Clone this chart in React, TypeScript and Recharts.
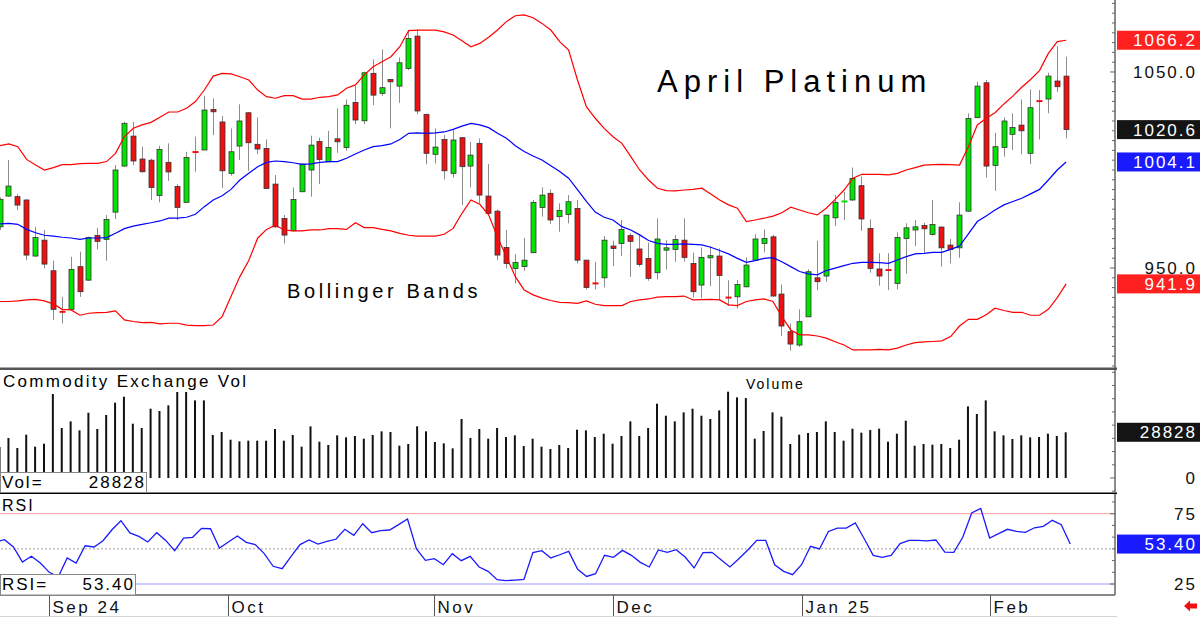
import React from "react";
import { Bar, ComposedChart, Line, ReferenceLine, XAxis, YAxis } from "recharts";

// April Platinum daily bars, Sep 2024 - Feb 2025
const opens = [
  971.0, 986.7, 986.4, 984.7, 956.1, 964.2, 948.6, 928.0, 928.9, 950.7,
  943.8, 966.6, 964.6, 978.5, 1002.0, 1017.3, 1005.6, 1005.0, 987.0, 1003.9,
  991.6, 983.5, 1009.5, 1010.2, 1030.9, 1024.5, 998.3, 1012.2, 1029.2, 1013.1,
  1011.0, 992.8, 975.3, 969.0, 988.9, 1000.0, 1014.6, 1004.2, 1015.9, 1011.5,
  1034.5, 1025.1, 1049.3, 1039.1, 1046.2, 1042.8, 1051.8, 1068.3, 1028.4, 1008.0,
  1015.6, 998.3, 1016.5, 1002.0, 1013.6, 986.7, 979.0, 960.5, 949.8, 950.7,
  957.8, 980.9, 988.1, 976.2, 977.3, 980.4, 954.0, 942.3, 945.0, 961.2,
  962.5, 966.5, 959.7, 954.9, 947.6, 959.1, 959.5, 964.2, 952.3, 941.3,
  955.2, 956.1, 935.3, 935.3, 940.4, 954.0, 962.5, 965.9, 936.7, 917.5,
  910.7, 925.1, 945.0, 945.9, 975.6, 983.6, 984.7, 992.0, 970.2, 949.5,
  949.1, 942.1, 965.1, 969.4, 971.7, 967.1, 970.9, 961.7, 960.3, 979.0,
  1026.7, 1044.5, 1002.3, 1011.5, 1018.2, 1022.9, 1008.5, 1035.3, 1036.2, 1045.4, 1047.9,
];
const highs = [
  986.0, 1005.1, 987.7, 985.0, 971.0, 969.4, 953.7, 935.3, 955.7, 958.3,
  966.0, 970.5, 977.0, 1002.5, 1024.6, 1024.6, 1011.9, 1005.7, 1012.4, 1013.6,
  992.7, 1009.3, 1017.0, 1037.9, 1036.5, 1027.5, 1021.2, 1033.5, 1029.5, 1026.8,
  1015.6, 997.4, 977.0, 991.1, 1003.4, 1017.5, 1016.5, 1020.0, 1031.4, 1036.0,
  1042.8, 1050.1, 1056.4, 1061.5, 1046.4, 1057.4, 1071.1, 1071.7, 1028.6, 1021.2,
  1017.8, 1020.4, 1016.8, 1014.4, 1016.1, 1003.0, 979.9, 969.4, 957.1, 965.4,
  984.7, 991.1, 990.1, 983.0, 987.2, 984.7, 954.2, 953.2, 966.3, 963.9,
  974.5, 967.7, 967.3, 962.9, 975.3, 964.2, 966.8, 975.3, 957.8, 960.5,
  961.2, 960.0, 943.8, 943.8, 955.4, 967.3, 969.7, 966.8, 941.6, 921.7,
  928.9, 949.3, 963.9, 977.2, 987.2, 988.9, 1001.3, 996.6, 974.8, 957.5,
  957.5, 968.2, 972.8, 974.5, 973.1, 984.7, 971.1, 964.8, 983.5, 1028.9,
  1045.0, 1045.9, 1019.0, 1026.8, 1028.9, 1036.0, 1041.1, 1040.8, 1049.6, 1063.2, 1057.8,
];
const lows = [
  969.4, 986.4, 979.6, 954.0, 955.7, 949.8, 923.4, 921.7, 928.5, 935.3,
  943.5, 959.5, 953.7, 975.0, 1001.7, 1002.5, 998.6, 984.7, 983.5, 994.4,
  974.5, 983.5, 999.1, 1010.2, 1017.8, 990.9, 997.1, 1005.1, 999.6, 1008.1,
  990.4, 970.5, 962.5, 968.8, 988.7, 986.4, 992.8, 1004.0, 1008.8, 1009.8,
  1023.4, 1023.4, 1033.1, 1037.7, 1021.2, 1034.3, 1051.0, 1028.4, 1002.9, 1003.4,
  995.2, 996.2, 982.1, 991.1, 983.0, 977.0, 954.0, 949.8, 942.1, 948.6,
  957.6, 976.2, 972.4, 968.5, 972.8, 952.3, 939.1, 939.1, 940.1, 951.0,
  956.1, 945.5, 950.7, 943.5, 944.2, 949.3, 953.2, 953.2, 935.0, 934.5,
  940.8, 933.6, 930.6, 929.4, 940.2, 953.8, 958.0, 935.3, 915.3, 907.8,
  909.8, 924.9, 938.7, 943.0, 971.4, 974.5, 984.2, 969.0, 947.6, 941.0,
  938.7, 939.1, 947.2, 961.2, 957.8, 966.5, 950.7, 952.3, 955.2, 978.7,
  1026.5, 996.2, 989.4, 1006.8, 1010.2, 1008.0, 1003.0, 1015.6, 1028.9, 1039.9, 1016.1,
];
const closes = [
  985.0, 991.8, 982.1, 956.6, 965.6, 952.0, 928.9, 927.3, 949.3, 937.9,
  965.6, 963.6, 974.8, 1000.0, 1023.8, 1004.6, 999.1, 991.1, 1010.5, 999.0,
  980.9, 1006.4, 1008.8, 1030.6, 1029.7, 999.6, 1009.3, 1025.0, 1013.9, 1010.7,
  990.6, 971.0, 966.8, 985.0, 1003.0, 1012.7, 1005.4, 1011.5, 1014.4, 1033.0,
  1025.5, 1049.6, 1038.2, 1042.0, 1045.0, 1054.7, 1067.1, 1030.1, 1008.5, 1011.7,
  999.6, 1015.3, 1001.7, 1007.6, 987.2, 977.9, 956.6, 952.3, 952.8, 954.0,
  983.5, 987.2, 974.5, 979.4, 983.8, 954.0, 940.1, 942.0, 964.2, 960.0,
  969.7, 963.6, 951.8, 944.7, 964.8, 960.3, 964.6, 955.4, 937.9, 955.4,
  956.3, 946.2, 934.5, 941.6, 951.5, 964.8, 965.1, 935.7, 920.4, 911.2,
  922.6, 948.1, 943.0, 977.0, 983.5, 984.3, 995.7, 975.0, 949.8, 945.9,
  948.8, 965.6, 970.5, 971.0, 970.0, 972.2, 960.3, 959.5, 977.0, 1026.3,
  1042.8, 1002.0, 1011.9, 1025.0, 1021.7, 1020.0, 1031.8, 1035.0, 1047.9, 1042.5, 1020.6,
];

// Bollinger bands
const upperBand = [
  1012.4, 1013.3, 1011.9, 1005.4, 1002.5, 1000.0, 1001.2, 1002.7, 1002.7, 1003.2,
  1003.4, 1003.4, 1004.3, 1008.5, 1017.0, 1021.3, 1023.0, 1024.3, 1026.9, 1029.6,
  1029.6, 1031.5, 1034.9, 1040.8, 1047.9, 1049.3, 1049.0, 1047.6, 1045.9, 1040.8,
  1037.4, 1036.6, 1037.9, 1037.9, 1036.2, 1036.2, 1037.1, 1037.4, 1038.3, 1041.7,
  1043.4, 1048.5, 1052.7, 1055.2, 1057.8, 1062.9, 1071.1, 1071.4, 1071.4, 1071.4,
  1070.5, 1068.9, 1066.0, 1062.9, 1064.6, 1067.7, 1071.4, 1075.7, 1078.7, 1079.1,
  1077.7, 1074.8, 1071.4, 1065.5, 1061.2, 1045.9, 1032.3, 1026.4, 1021.2, 1017.0,
  1013.6, 1006.8, 1000.0, 994.9, 990.7, 989.5, 989.3, 989.8, 990.1, 990.7,
  987.8, 984.7, 982.2, 980.5, 973.7, 974.5, 975.4, 976.5, 978.2, 981.0,
  979.6, 978.2, 977.1, 980.5, 985.0, 989.8, 995.8, 997.8, 997.8, 997.8,
  997.5, 998.3, 1000.0, 1001.2, 1002.5, 1002.7, 1002.9, 1002.7, 1002.5, 1011.9,
  1023.0, 1026.4, 1029.2, 1033.7, 1037.7, 1042.2, 1046.2, 1050.7, 1059.5, 1065.5, 1066.2,
];
const middleBand = [
  972.5, 972.8, 972.3, 969.7, 968.0, 966.7, 966.3, 965.7, 965.3, 964.6,
  965.3, 965.3, 965.5, 967.7, 970.1, 971.4, 972.3, 973.1, 974.0, 975.4,
  975.4, 975.9, 977.4, 981.3, 984.7, 986.9, 990.1, 994.9, 998.3, 1001.7,
  1003.9, 1004.6, 1004.3, 1003.7, 1002.9, 1003.1, 1003.9, 1004.3, 1004.3, 1006.0,
  1008.2, 1010.2, 1011.9, 1012.4, 1013.3, 1015.6, 1018.7, 1018.9, 1018.7, 1018.9,
  1019.4, 1020.7, 1022.4, 1023.8, 1023.0, 1021.6, 1018.7, 1016.2, 1012.4, 1009.4,
  1007.1, 1005.1, 1002.2, 999.2, 995.8, 990.0, 984.0, 978.5, 975.9, 974.5,
  971.1, 969.4, 966.9, 964.0, 962.6, 962.1, 962.1, 962.3, 962.1, 961.8,
  960.6, 958.9, 957.2, 954.9, 952.9, 953.8, 954.9, 955.3, 953.2, 950.7,
  948.2, 947.0, 946.5, 948.7, 949.9, 951.2, 952.4, 952.9, 952.9, 952.7,
  952.4, 954.1, 955.8, 957.2, 957.5, 958.0, 958.0, 959.5, 961.2, 967.4,
  973.7, 976.5, 979.6, 982.2, 983.9, 985.6, 987.8, 990.1, 994.9, 1000.0, 1004.1,
];
const lowerBand = [
  932.9, 932.9, 933.2, 933.7, 934.0, 933.2, 931.7, 928.9, 928.6, 925.9,
  926.9, 927.2, 927.4, 928.1, 923.5, 922.7, 922.1, 922.3, 921.5, 921.8,
  921.8, 920.9, 920.6, 920.6, 920.9, 925.2, 935.4, 945.6, 953.8, 965.2,
  969.7, 971.8, 969.4, 968.9, 968.9, 969.4, 969.4, 970.1, 970.1, 969.7,
  973.1, 970.6, 970.6, 969.7, 968.9, 967.7, 966.7, 966.3, 966.3, 966.3,
  967.2, 970.2, 977.9, 984.7, 982.5, 977.1, 965.7, 955.8, 945.6, 938.8,
  936.3, 934.6, 933.4, 932.5, 932.3, 932.0, 933.2, 931.5, 930.8, 930.8,
  930.8, 932.9, 933.7, 934.2, 935.1, 935.4, 935.4, 935.7, 933.7, 933.9,
  934.0, 933.7, 931.2, 930.8, 932.9, 933.7, 934.2, 932.9, 925.2, 918.4,
  915.9, 915.9, 915.3, 914.2, 912.4, 910.7, 908.2, 908.2, 908.2, 908.5,
  908.2, 909.1, 910.7, 911.9, 912.3, 912.5, 912.8, 915.0, 920.4, 923.8,
  923.8, 926.1, 929.5, 928.3, 927.4, 927.4, 925.9, 925.9, 928.9, 934.9, 941.9,
];

const volumes = [
  19540, 25210, 18910, 27310, 19750, 21640, 52950, 31520, 35720, 30040,
  41180, 30880, 39710, 47480, 51260, 34250, 31520, 43700, 42230, 45800,
  54210, 54210, 48950, 48950, 27100, 28990, 24160, 23110, 23530, 23530,
  23530, 30880, 23530, 27100, 19750, 32570, 22900, 20800, 26890, 25630,
  26470, 24790, 27100, 29410, 28990, 20380, 21430, 32570, 29410, 22690,
  21850, 18700, 37190, 25210, 30880, 24790, 31520, 25840, 26890, 20170,
  24790, 19750, 18280, 20800, 18910, 30460, 30040, 25840, 27940, 21640,
  26470, 35720, 26470, 31520, 46850, 39290, 35720, 41390, 43700, 39290,
  37190, 42650, 54420, 50840, 50420, 24790, 29620, 41390, 38660, 21430,
  27310, 28360, 28990, 35720, 28990, 23530, 31090, 28570, 30250, 31090,
  22900, 27940, 36140, 20380, 21430, 21010, 21430, 18910, 24160, 45170,
  40340, 48950, 29410, 26890, 24580, 26890, 25630, 25840, 27940, 26470, 28828,
];

const rsiValues = [
  54.9, 56.5, 51.3, 40.6, 44.7, 39.9, 33.3, 30.0, 43.5, 39.9,
  52.2, 51.3, 55.8, 63.6, 70.0, 61.3, 58.9, 54.9, 61.5, 56.0,
  48.7, 57.7, 58.2, 64.6, 64.3, 50.6, 54.9, 59.1, 54.6, 53.0,
  46.6, 37.6, 35.9, 44.7, 53.0, 56.3, 53.4, 55.3, 56.8, 63.9,
  59.6, 67.9, 61.5, 62.9, 63.4, 67.2, 71.2, 49.9, 41.8, 43.0,
  38.7, 46.6, 41.6, 44.7, 37.1, 34.0, 28.1, 27.4, 27.8, 28.3,
  47.3, 48.7, 43.5, 45.8, 48.2, 35.4, 30.4, 32.3, 45.4, 44.0,
  48.9, 45.4, 40.4, 37.1, 49.2, 47.5, 49.4, 44.2, 36.4, 47.3,
  47.5, 42.3, 37.1, 43.0, 49.2, 56.0, 56.0, 38.7, 34.0, 31.6,
  38.7, 51.8, 49.9, 62.4, 64.8, 64.8, 68.4, 57.2, 45.4, 44.0,
  45.4, 53.7, 56.0, 56.0, 55.6, 56.3, 47.7, 47.5, 58.2, 75.5,
  78.8, 57.7, 60.8, 63.9, 62.4, 61.7, 65.0, 66.0, 70.3, 67.2, 53.4,
];

const monthTicks = [6, 26, 49, 69, 90, 111];
const monthLabels = ["Sep 24", "Oct", "Nov", "Dec", "Jan 25", "Feb"];
const priceLabels = [950, 1050];
const volLabels = [0, 50000];
const rsiLabels = [25, 75];

const FONT = "'Liberation Sans', Arial, Helvetica, sans-serif";
const W = 1200;
const AXIS_W = 85;
const PLOT_RIGHT = W - AXIS_W;
const LEFT = -4.445; // first bar sits on the left edge
const PAD = 5; // empty slots right of the last bar
const MARGIN = { top: 0, right: 0, bottom: 0, left: LEFT };

const rows = Array.from({ length: opens.length + PAD }, (_, i) =>
  i < opens.length
    ? {
        i,
        o: opens[i],
        h: highs[i],
        l: lows[i],
        c: closes[i],
        up: upperBand[i],
        mid: middleBand[i],
        lo: lowerBand[i],
        v: volumes[i],
        rsi: rsiValues[i],
      }
    : { i }
);

const last = opens.length - 1;

const steps = (from: number, to: number, step: number) => {
  const out: number[] = [];
  for (let v = from; v <= to + 1e-6; v += step) out.push(Math.round(v * 1000) / 1000);
  return out;
};

function Candle(props: any) {
  const { x, y, width, height, payload } = props;
  if (!payload || payload.o == null) return null;
  const top = Math.min(y, y + height);
  const bot = Math.max(y, y + height);
  const span = payload.h - payload.l;
  const toY = (v: number) => (span === 0 ? top : top + ((payload.h - v) / span) * (bot - top));
  const cx = Math.round(x + width / 2) + 0.5;
  const rising = payload.c >= payload.o;
  const fill = rising ? "#00e400" : "#ee1111";
  const bt = toY(Math.max(payload.o, payload.c));
  const bb = toY(Math.min(payload.o, payload.c));
  const tiny = bb - bt < 2;
  return (
    <g>
      <line x1={cx} x2={cx} y1={top} y2={bot} stroke="#8c8c8c" strokeWidth={1} />
      {tiny ? (
        <rect x={cx - 3} y={(bt + bb) / 2 - 1} width={6} height={2} fill={fill} />
      ) : (
        <rect x={cx - 2.5} y={bt} width={5} height={bb - bt} fill={fill} stroke="#333" strokeWidth={0.8} />
      )}
    </g>
  );
}

function makeTick(labels: number[], fmt: (v: number) => string) {
  return (props: any) => {
    const { y, payload } = props;
    const v = payload.value;
    const major = labels.some((l) => Math.abs(l - v) < 1e-6);
    return (
      <g>
        <line x1={PLOT_RIGHT - (major ? 5 : 3)} x2={PLOT_RIGHT} y1={y} y2={y} stroke="#666" />
        {major ? (
          <text x={W - 3} y={y} dy="0.36em" textAnchor="end" fontSize={17} letterSpacing={2} fill="#111" fontFamily={FONT}>
            {fmt(v)}
          </text>
        ) : null}
      </g>
    );
  };
}

function Badge(props: any) {
  const { viewBox, text, bg } = props;
  if (!viewBox) return null;
  const y = viewBox.y;
  return (
    <g>
      <rect x={PLOT_RIGHT + 2} y={y - 9.5} width={W - PLOT_RIGHT - 2} height={19} fill={bg} />
      <text x={W - 3} y={y} dy="0.36em" textAnchor="end" fontSize={17} letterSpacing={2} fill="#fff" fontFamily={FONT}>
        {text}
      </text>
    </g>
  );
}

function MonthTick(props: any) {
  const { x, y, payload } = props;
  const idx = monthTicks.indexOf(payload.value);
  if (idx < 0) return null;
  const xx = Math.round(x) + 0.5;
  return (
    <g>
      <line x1={xx} x2={xx} y1={y} y2={y + 21} stroke="#555" />
      <text x={xx + 3} y={y + 18} fontSize={17} letterSpacing={2.5} fill="#111" fontFamily={FONT}>
        {monthLabels[idx]}
      </text>
    </g>
  );
}

const PriceTick = makeTick(priceLabels, (v) => v.toFixed(1));
const VolTick = makeTick(volLabels, (v) => String(v));
const RsiTick = makeTick(rsiLabels, (v) => String(v));

export default function App() {
  return (
    <div style={{ position: "absolute", left: 0, top: 0, width: W, height: 619, background: "#fff", overflow: "hidden", fontFamily: FONT }}>
      <div style={{ position: "absolute", left: 0, top: 0 }}>
        <ComposedChart width={W} height={368} data={rows} margin={MARGIN}>
          <XAxis dataKey="i" hide />
          <YAxis
            yAxisId="p"
            orientation="right"
            width={AXIS_W}
            type="number"
            domain={[898.98, 1086.73]}
            allowDataOverflow
            ticks={steps(900, 1085, 5)}
            interval={0}
            tick={PriceTick}
            tickLine={false}
            axisLine={{ stroke: "#666", strokeWidth: 1.5 }}
          />
          <Line yAxisId="p" dataKey="up" stroke="#ff0000" strokeWidth={1.2} dot={false} activeDot={false} isAnimationActive={false} />
          <Line yAxisId="p" dataKey="lo" stroke="#ff0000" strokeWidth={1.2} dot={false} activeDot={false} isAnimationActive={false} />
          <Line yAxisId="p" dataKey="mid" stroke="#0000ff" strokeWidth={1.2} dot={false} activeDot={false} isAnimationActive={false} />
          <Bar
            yAxisId="p"
            dataKey={(d: any) => (d.o == null ? null : [d.l, d.h])}
            barSize={6}
            shape={<Candle />}
            isAnimationActive={false}
          />
          <ReferenceLine yAxisId="p" y={upperBand[last]} stroke="none" label={<Badge text={upperBand[last].toFixed(1)} bg="#ff2020" />} />
          <ReferenceLine yAxisId="p" y={closes[last]} stroke="none" label={<Badge text={closes[last].toFixed(1)} bg="#141414" />} />
          <ReferenceLine yAxisId="p" y={middleBand[last]} stroke="none" label={<Badge text={middleBand[last].toFixed(1)} bg="#1a1aff" />} />
          <ReferenceLine yAxisId="p" y={lowerBand[last]} stroke="none" label={<Badge text={lowerBand[last].toFixed(1)} bg="#ff2020" />} />
        </ComposedChart>
      </div>

      <div style={{ position: "absolute", left: 0, top: 370 }}>
        <ComposedChart width={W} height={122} data={rows} margin={MARGIN}>
          <XAxis dataKey="i" hide />
          <YAxis
            yAxisId="v"
            orientation="right"
            width={AXIS_W}
            type="number"
            domain={[-8827, 68096]}
            allowDataOverflow
            ticks={steps(-8333.333, 66666.667, 8333.333)}
            interval={0}
            tick={VolTick}
            tickLine={false}
            axisLine={{ stroke: "#666", strokeWidth: 1.5 }}
          />
          <Bar yAxisId="v" dataKey="v" barSize={2} fill="#111" isAnimationActive={false} />
          <ReferenceLine yAxisId="v" y={volumes[last]} stroke="none" label={<Badge text={String(volumes[last])} bg="#141414" />} />
        </ComposedChart>
      </div>

      <div style={{ position: "absolute", left: 0, top: 494 }}>
        <ComposedChart width={W} height={125} data={rows} margin={MARGIN}>
          <XAxis
            dataKey="i"
            height={24}
            ticks={monthTicks}
            interval={0}
            tick={MonthTick}
            tickLine={false}
            tickSize={0}
            tickMargin={0}
            axisLine={{ stroke: "#888", strokeWidth: 2 }}
          />
          <YAxis
            yAxisId="r"
            orientation="right"
            width={AXIS_W}
            type="number"
            domain={[17.18, 89.0]}
            allowDataOverflow
            ticks={steps(25, 83.34, 8.3333)}
            interval={0}
            tick={RsiTick}
            tickLine={false}
            axisLine={{ stroke: "#666", strokeWidth: 1.5 }}
          />
          <ReferenceLine yAxisId="r" y={75} stroke="#ff9a9a" />
          <ReferenceLine yAxisId="r" y={50} stroke="#a0a0a0" strokeDasharray="2 2" />
          <ReferenceLine yAxisId="r" y={25} stroke="#9a9aff" />
          <Line yAxisId="r" dataKey="rsi" stroke="#1a1aff" strokeWidth={1.3} dot={false} activeDot={false} isAnimationActive={false} />
          <ReferenceLine yAxisId="r" y={rsiValues[last]} stroke="none" label={<Badge text={rsiValues[last].toFixed(2)} bg="#1a1aff" />} />
        </ComposedChart>
      </div>

      <svg width={W} height={619} style={{ position: "absolute", left: 0, top: 0, pointerEvents: "none" }} fontFamily={FONT}>
        <rect x={0} y={367.5} width={PLOT_RIGHT + 2} height={2.5} fill="#555" />
        <rect x={0} y={492.5} width={PLOT_RIGHT + 2} height={1.5} fill="#000" />
        <rect x={0} y={616} width={PLOT_RIGHT + 2} height={1} fill="#d4d4d4" />

        <text x={657} y={92} fontSize={31} letterSpacing={6} fill="#000">April Platinum</text>
        <text x={287} y={298} fontSize={20} letterSpacing={3.6} fill="#000">Bollinger Bands</text>

        <text x={3} y={387} fontSize={17} letterSpacing={2.3} fill="#000">Commodity Exchange Vol</text>
        <text x={746} y={389} fontSize={14} letterSpacing={2} fill="#000">Volume</text>
        <rect x={0.5} y={472.5} width={146} height={20} fill="#fff" stroke="#888" />
        <text x={2} y={488} fontSize={17} letterSpacing={2} fill="#000">Vol=</text>
        <text x={146} y={488} fontSize={17} letterSpacing={2} fill="#000" textAnchor="end">{volumes[last]}</text>

        <rect x={0} y={495} width={36} height={18} fill="#fff" />
        <text x={2} y={511} fontSize={16} letterSpacing={2} fill="#000">RSI</text>
        <rect x={0.5} y={574.5} width={135} height={20.5} fill="#fff" stroke="#888" />
        <text x={2} y={590} fontSize={17} letterSpacing={2} fill="#000">RSI=</text>
        <text x={135} y={590} fontSize={17} letterSpacing={2} fill="#000" textAnchor="end">{rsiValues[last].toFixed(2)}</text>

        <polygon points="1184,606 1190,600.5 1190,603.5 1197,603.5 1197,608.5 1190,608.5 1190,611.5" fill="#ee1111" />
      </svg>
    </div>
  );
}
